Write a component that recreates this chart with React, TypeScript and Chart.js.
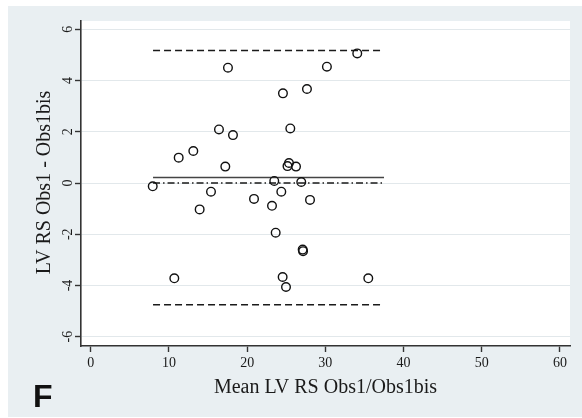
import React, { useEffect, useRef } from "react";
import { Chart, registerables } from "chart.js";

Chart.register(...registerables);

// Bland-Altman data: mean of the two readings (x) and their difference (y)
const meanX = [7.93, 11.25, 13.12, 13.93, 15.38, 16.4, 17.21, 17.55, 18.19, 20.88, 23.18, 23.47, 23.65, 24.37, 24.58, 24.54, 24.97, 25.35, 25.16, 26.25, 25.52, 26.92, 27.1, 27.15, 27.65, 28.04, 30.2, 34.08, 35.49, 10.69];
const diffY = [-0.13, 0.99, 1.25, -1.03, -0.34, 2.09, 0.64, 4.5, 1.87, -0.62, -0.89, 0.08, -1.94, -0.34, 3.5, -3.67, -4.06, 0.78, 0.66, 0.64, 2.13, 0.04, -2.6, -2.66, 3.67, -0.66, 4.54, 5.06, -3.72, -3.72];

const meanDiff = 0.21;
const upperLoA = 5.17;
const lowerLoA = -4.75;
const zeroRef = 0;
const lineRangeX = [7.97, 37.5];

const xTicks = [0, 10, 20, 30, 40, 50, 60];
const yTicks = [-6, -4, -2, 0, 2, 4, 6];

const xTitle = "Mean LV RS Obs1/Obs1bis";
const yTitle = "LV RS Obs1 - Obs1bis";
const panelLabel = "F";

const SERIF = '"Liberation Serif", "Times New Roman", serif';

export default function App() {
  const canvasRef = useRef<HTMLCanvasElement | null>(null);

  useEffect(() => {
    const canvas = canvasRef.current;
    if (!canvas) return;

    const hLine = (y: number) => lineRangeX.map((x) => ({ x, y }));

    const bgPlugin = {
      id: "bg",
      beforeDraw(chart: any) {
        const { ctx, chartArea } = chart;
        ctx.save();
        ctx.fillStyle = "#ffffff";
        ctx.fillRect(0, 0, chart.width, chart.height);
        ctx.fillStyle = "#e9eff2";
        ctx.fillRect(8, 6, chart.width - 8, chart.height - 7);
        ctx.fillStyle = "#ffffff";
        ctx.fillRect(chartArea.left, chartArea.top, chartArea.right - chartArea.left, chartArea.bottom - chartArea.top);
        ctx.restore();
      },
    };

    const textPlugin = {
      id: "texts",
      afterDraw(chart: any) {
        const { ctx, chartArea } = chart;
        const ys = chart.scales.y;
        ctx.save();
        ctx.fillStyle = "#1a1a1a";
        // rotated y tick labels
        ctx.font = `14px ${SERIF}`;
        ctx.textAlign = "center";
        ctx.textBaseline = "alphabetic";
        yTicks.forEach((v) => {
          const py = ys.getPixelForValue(v);
          ctx.save();
          ctx.translate(72, py);
          ctx.rotate(-Math.PI / 2);
          ctx.fillText(String(v), 0, 0);
          ctx.restore();
        });
        // y title
        ctx.font = `20px ${SERIF}`;
        ctx.save();
        ctx.translate(50, (chartArea.top + chartArea.bottom) / 2 - 1);
        ctx.rotate(-Math.PI / 2);
        ctx.fillText(yTitle, 0, 0);
        ctx.restore();
        // x title
        ctx.fillText(xTitle, (chartArea.left + chartArea.right) / 2, 393);
        // panel label
        ctx.font = `bold 32px "Liberation Sans", Arial, sans-serif`;
        ctx.textAlign = "left";
        ctx.fillStyle = "#111111";
        ctx.fillText(panelLabel, 33, 407);
        ctx.restore();
      },
    };

    const chart = new Chart(canvas, {
      type: "scatter",
      data: {
        datasets: [
          {
            label: "Differences",
            data: meanX.map((x, i) => ({ x, y: diffY[i] })),
            showLine: false,
            pointStyle: "circle",
            pointRadius: 4.3,
            pointBorderWidth: 1.4,
            pointBorderColor: "#111111",
            pointBackgroundColor: "rgba(0,0,0,0)",
          },
          {
            label: "Upper LoA",
            data: hLine(upperLoA),
            showLine: true,
            borderColor: "#1a1a1a",
            borderWidth: 1.5,
            borderDash: [7, 4],
            pointRadius: 0,
          },
          {
            label: "Lower LoA",
            data: hLine(lowerLoA),
            showLine: true,
            borderColor: "#1a1a1a",
            borderWidth: 1.5,
            borderDash: [7, 4],
            pointRadius: 0,
          },
          {
            label: "Mean difference",
            data: hLine(meanDiff),
            showLine: true,
            borderColor: "#444444",
            borderWidth: 1.5,
            pointRadius: 0,
          },
          {
            label: "Zero",
            data: hLine(zeroRef),
            showLine: true,
            borderColor: "#1a1a1a",
            borderWidth: 1.3,
            borderDash: [7, 3, 1.5, 3],
            pointRadius: 0,
          },
        ],
      },
      options: {
        animation: false,
        responsive: false,
        devicePixelRatio: 1,
        layout: { padding: { left: 0, top: 21, right: 12, bottom: 0 } },
        plugins: {
          legend: { display: false },
          tooltip: { enabled: false },
          title: { display: false },
        },
        scales: {
          x: {
            type: "linear",
            min: -1.24,
            max: 61.28,
            afterBuildTicks: (scale: any) => {
              scale.ticks = xTicks.map((value) => ({ value }));
            },
            afterFit: (scale: any) => {
              scale.height = 72;
            },
            grid: {
              drawOnChartArea: false,
              drawTicks: true,
              tickLength: 6,
              tickColor: "#333333",
              tickWidth: 1.4,
            },
            border: { display: true, color: "#333333", width: 1.6 },
            ticks: {
              font: { family: SERIF, size: 14 },
              color: "#1a1a1a",
              padding: 3,
              maxRotation: 0,
            },
          },
          y: {
            type: "linear",
            min: -6.363,
            max: 6.324,
            afterBuildTicks: (scale: any) => {
              scale.ticks = yTicks.map((value) => ({ value }));
            },
            afterFit: (scale: any) => {
              scale.width = 81;
            },
            grid: {
              color: "#e2e8eb",
              lineWidth: 1,
              drawTicks: true,
              tickLength: 6,
              tickColor: "#333333",
              tickWidth: 1.4,
            },
            border: { display: true, color: "#333333", width: 1.6 },
            ticks: { display: false },
          },
        },
      },
      plugins: [bgPlugin, textPlugin],
    } as any);

    return () => chart.destroy();
  }, []);

  return (
    <div style={{ position: "fixed", left: 0, top: 0, width: 582, height: 418 }}>
      <canvas ref={canvasRef} width={582} height={418} style={{ display: "block", width: 582, height: 418 }} />
    </div>
  );
}
